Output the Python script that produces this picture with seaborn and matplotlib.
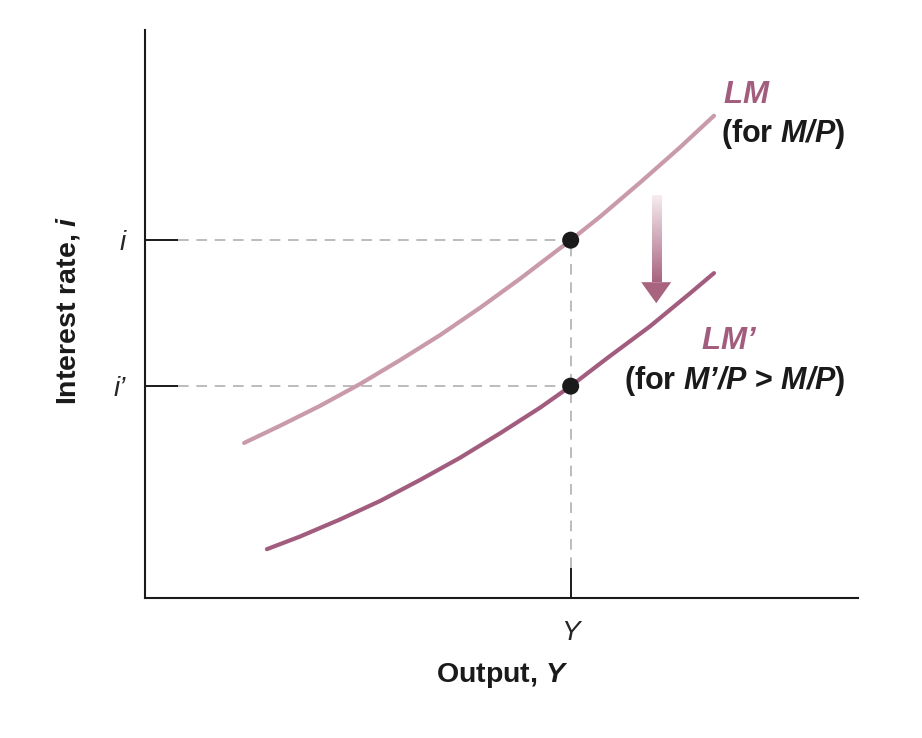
import numpy as np
import pandas as pd
import matplotlib
matplotlib.use("Agg")
import matplotlib.pyplot as plt
import seaborn as sns

# Curves (x = output, y = interest rate)
lm_x = [1.39, 1.89, 2.45, 3.02, 3.58, 4.14, 4.70, 5.26, 5.97, 6.38, 6.94, 7.50, 7.98]
lm_y = [2.73, 3.03, 3.38, 3.77, 4.19, 4.63, 5.11, 5.62, 6.30, 6.71, 7.31, 7.93, 8.49]
lm2_x = [1.71, 2.17, 2.73, 3.30, 3.86, 4.42, 4.98, 5.54, 5.97, 6.49, 7.08, 7.64, 7.98]
lm2_y = [0.86, 1.08, 1.38, 1.71, 2.08, 2.47, 2.90, 3.35, 3.73, 4.23, 4.78, 5.36, 5.72]

# Equilibrium output and the two interest rates
y_level = 5.97
i_levels = [6.30, 3.73]
i_labels = ["i", "i\u2019"]
y_labels = ["Y"]

light = "#c99aab"
dark = "#a25c7e"
ink = "#1a1a1a"

sns.set_theme(style="white")
plt.rcParams["font.family"] = ["Liberation Sans", "DejaVu Sans"]
plt.rcParams["mathtext.fontset"] = "custom"
plt.rcParams["mathtext.bfit"] = "Liberation Sans:italic:bold"
plt.rcParams["mathtext.it"] = "Liberation Sans:italic"
plt.rcParams["mathtext.bf"] = "Liberation Sans:bold"
plt.rcParams["mathtext.rm"] = "Liberation Sans"

fig = plt.figure(figsize=(9.22, 7.38), dpi=100)
ax = fig.add_axes([145 / 922, 140 / 738, 713 / 922, 568 / 738])

lm = pd.DataFrame({"x": lm_x, "y": lm_y})
lm2 = pd.DataFrame({"x": lm2_x, "y": lm2_y})
sns.lineplot(data=lm, x="x", y="y", sort=False, estimator=None, color=light, lw=3,
             solid_joinstyle="round", ax=ax)
sns.lineplot(data=lm2, x="x", y="y", sort=False, estimator=None, color=dark, lw=3,
             solid_joinstyle="round", ax=ax)

# dashed guides, starting where the short solid ticks end
ytick_len = 0.46
xtick_len = 0.53
for lev in i_levels:
    ax.plot([ytick_len, y_level], [lev, lev], color="#aaaaaa", lw=1.1, ls=(0, (7, 5)), zorder=1)
ax.plot([y_level, y_level], [xtick_len, max(i_levels)], color="#aaaaaa", lw=1.1,
        ls=(0, (7, 5)), zorder=1)

pts = pd.DataFrame({"x": [y_level] * len(i_levels), "y": i_levels})
sns.scatterplot(data=pts, x="x", y="y", color=ink, s=150, edgecolor="none", zorder=5, ax=ax)

# shift arrow (gradient shaft + solid head)
grad = np.linspace(0, 1, 100).reshape(-1, 1)
cmap = matplotlib.colors.LinearSegmentedColormap.from_list("g", ["#f6ecf1", "#a8647f"])
ax.imshow(grad, extent=[7.11, 7.24, 5.56, 7.08], origin="upper", cmap=cmap, aspect="auto", zorder=3)
ax.add_patch(plt.Polygon([[6.96, 5.56], [7.38, 5.56], [7.17, 5.19]], closed=True,
                         color="#a8647f", lw=0, zorder=3))

ax.set_xlim(0, 10)
ax.set_ylim(0, 10)
sns.despine(ax=ax)
for sp in ["left", "bottom"]:
    ax.spines[sp].set_color(ink)
    ax.spines[sp].set_linewidth(1.5)

ax.set_yticks(i_levels)
ax.set_yticklabels(i_labels, fontsize=20, fontstyle="italic")
ax.set_xticks([y_level])
ax.set_xticklabels(y_labels, fontsize=20, fontstyle="italic")
ax.tick_params(axis="y", direction="in", length=23.5, width=1.4, color=ink, pad=14, left=True)
ax.tick_params(axis="x", direction="in", length=21.5, width=1.4, color=ink, pad=16, bottom=True)
ax.set_xlabel("")
ax.set_ylabel("")

# curve labels
ax.text(8.11, 8.71, r"$\mathbfit{LM}$", color=dark, fontsize=22.5, va="baseline")
ax.text(8.08, 8.03, r"(for $\mathbfit{M/P}$)", color=ink, fontsize=22,
        fontweight="bold", va="baseline")
ax.text(8.19, 4.38, "$\\mathbfit{LM\u2019}$", color=dark, fontsize=22.5, va="baseline", ha="center")
ax.text(8.27, 3.68, "(for $\\mathbfit{M\u2019/P}$ > $\\mathbfit{M/P}$)", color=ink,
        fontsize=22, fontweight="bold", va="baseline", ha="center")

fig.text(502 / 922, 1 - 676 / 738, r"Output, $\mathbfit{Y}$", fontsize=20.5, fontweight="bold",
         ha="center", va="center", color=ink)
fig.text(68 / 922, 1 - 310 / 738, r"Interest rate, $\mathbfit{i}$", fontsize=20.5, fontweight="bold",
         ha="center", va="center", rotation=90, color=ink)

fig.savefig("out.png", dpi=100, facecolor="white")
